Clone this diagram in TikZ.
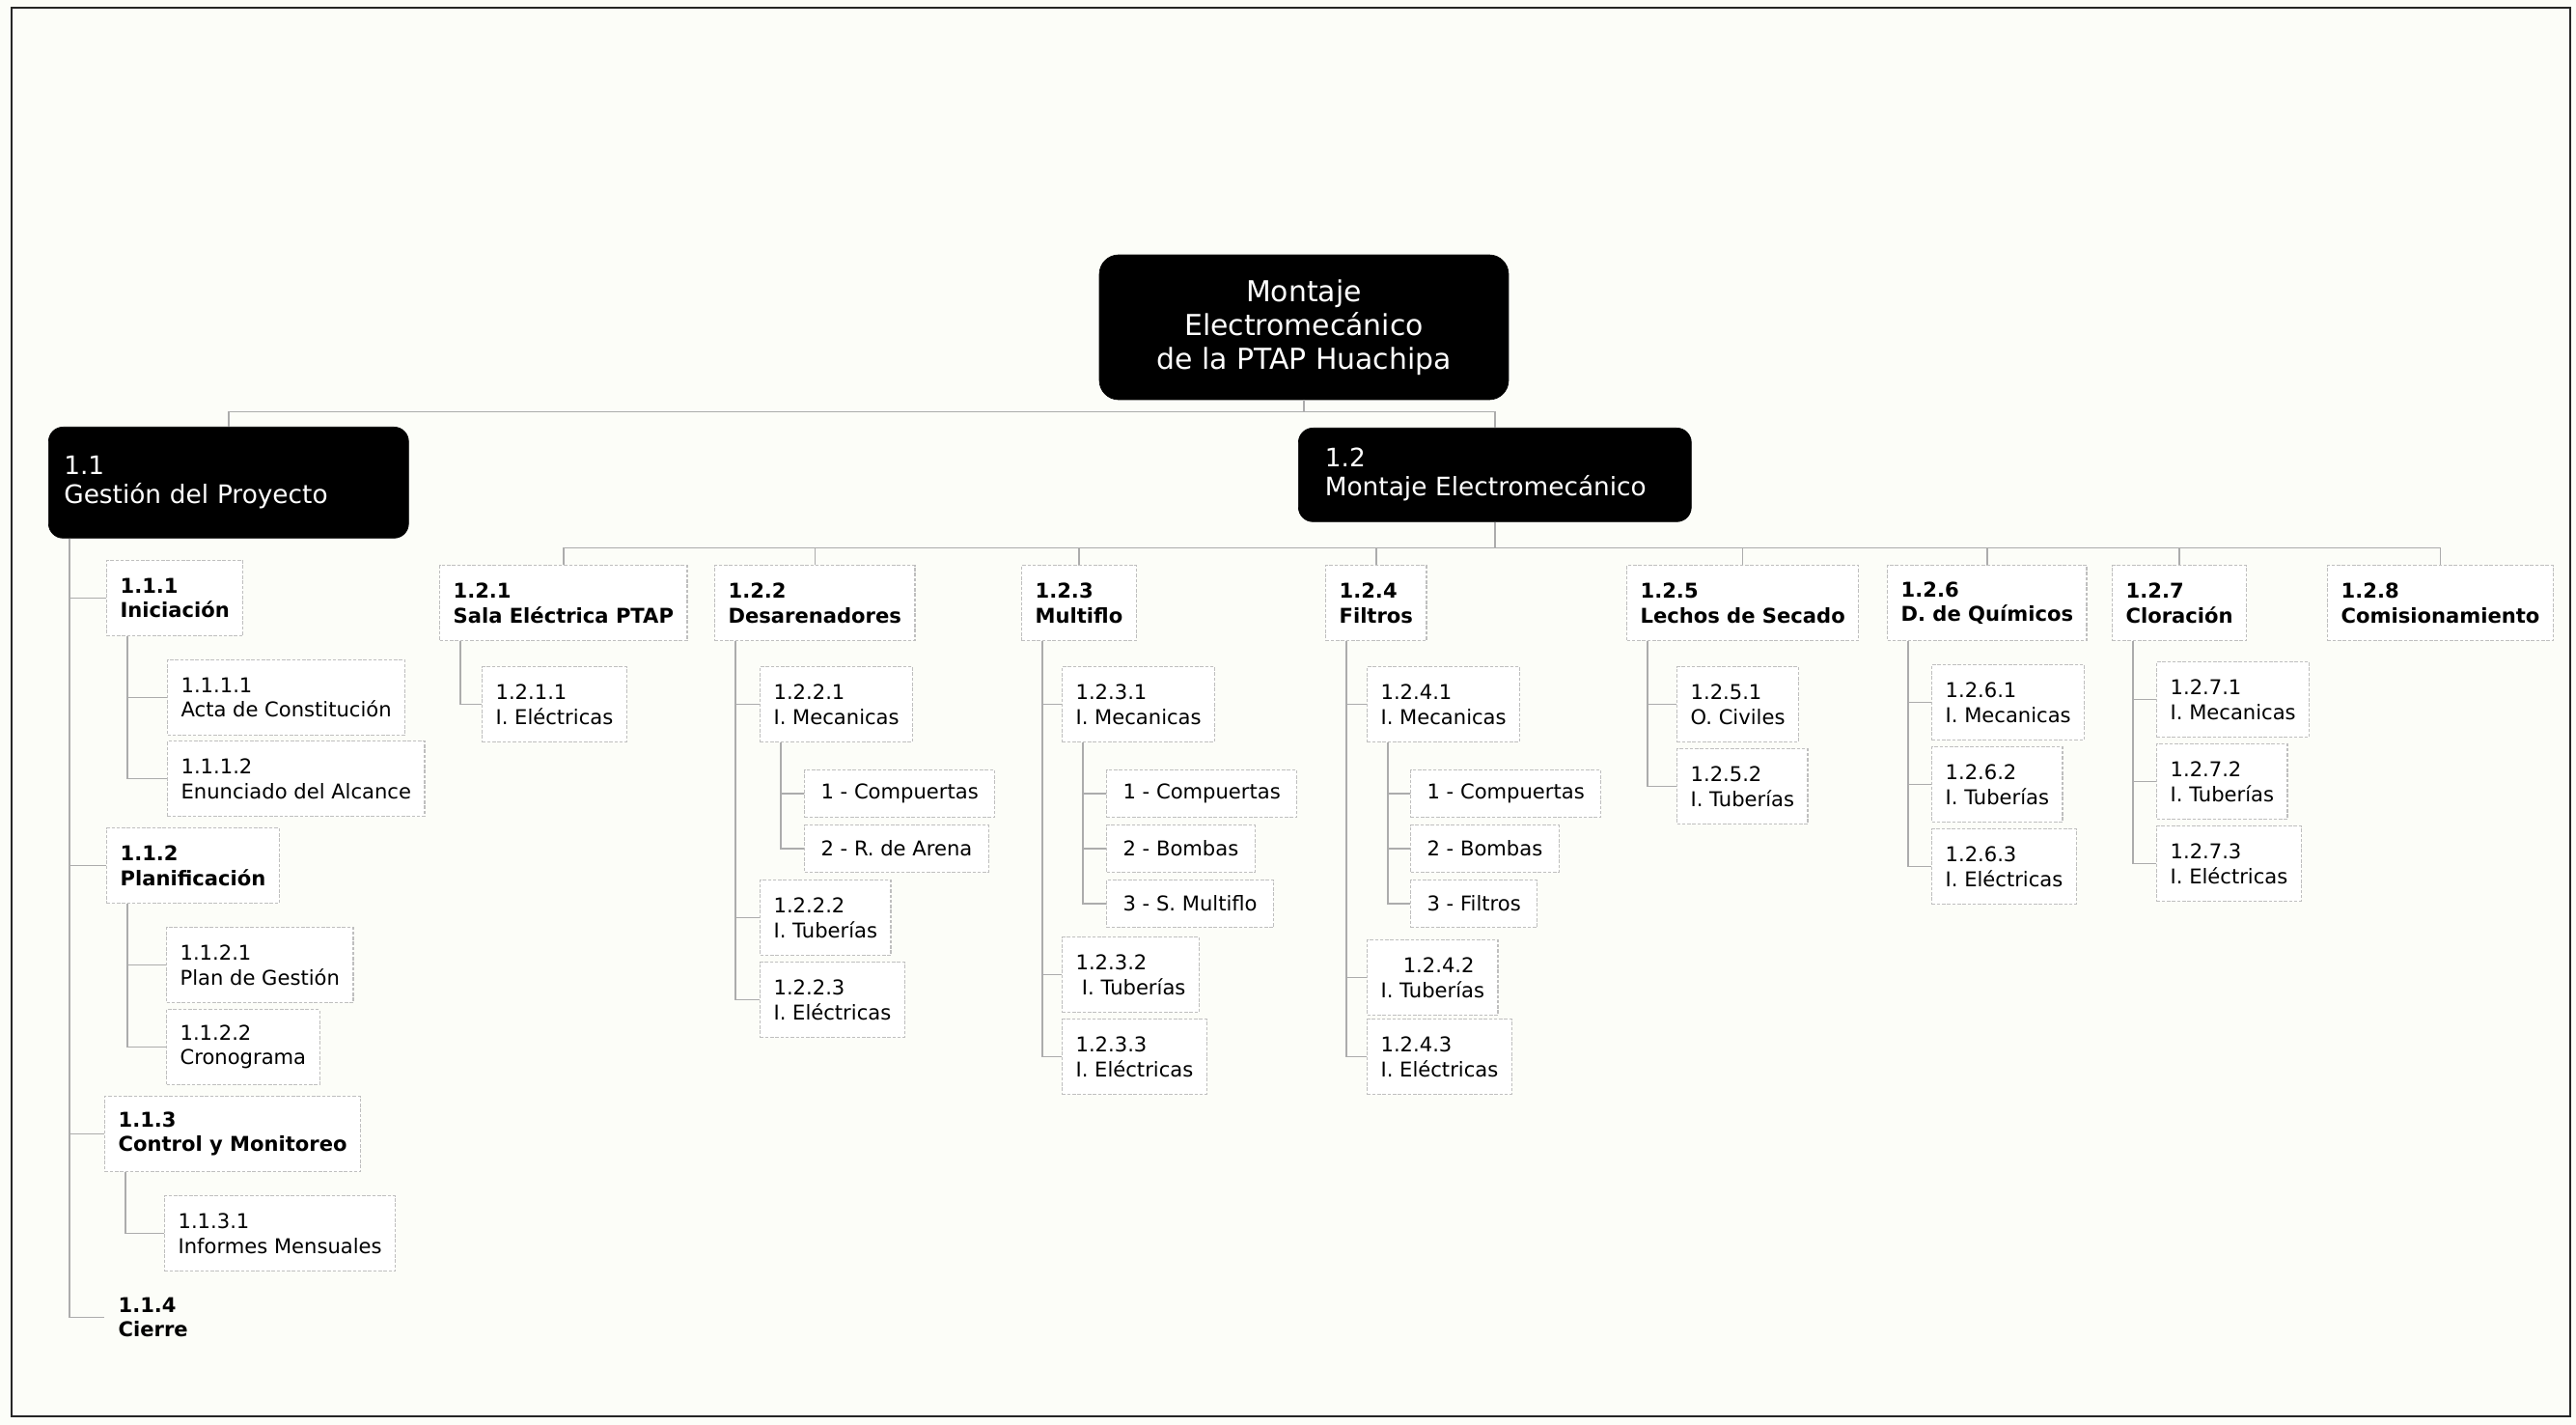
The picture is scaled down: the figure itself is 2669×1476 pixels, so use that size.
\documentclass[tikz,border=0pt]{standalone}
\usepackage{fontspec}
\setmainfont{DejaVu Sans}
\definecolor{paper}{RGB}{252,253,248}
\begin{document}
\begin{tikzpicture}[x=0.02cm, y=-0.02cm,
    % Define styles - one per level of the breakdown
    top/.style={rectangle, rounded corners=0.4cm, draw=black, fill=black, text=white, align=center, minimum width=8.48cm, minimum height=3cm, font=\fontsize{17}{20}\selectfont},
    phase/.style={rectangle, rounded corners=0.3cm, draw=black, fill=black, text=white, align=left, anchor=north west, font=\fontsize{15}{17}\selectfont},
    pkg/.style={rectangle, draw=gray!50, line width=0.7pt, dash pattern=on 2pt off 1pt, fill=white, align=left, anchor=north west, inner xsep=0.28cm, minimum height=1.56cm, font=\fontsize{12}{14.5}\selectfont\bfseries},
    task/.style={pkg, font=\fontsize{12}{14.5}\selectfont},
    item/.style={task, inner xsep=0.34cm, minimum height=0.98cm},
    link/.style={draw=gray!65, line width=0.8pt}
]
\useasboundingbox (0,0) rectangle (2669,1476);
\fill[paper] (0,0) rectangle (2669,1476);
\draw[gray!30!black, line width=1.1pt] (12,8) rectangle (2663,1467);

% Root and phases
\node[top] (root) at (1351,339) {Montaje\\Electromecánico\\de la PTAP Huachipa};
\node[phase, text width=6.82cm, inner xsep=0.32cm, minimum height=2.3cm] (g11) at (50,442) {1.1\\Gestión del Proyecto};
\node[phase, text width=7.04cm, inner xsep=0.55cm, minimum height=1.94cm] (g12) at (1345,443) {1.2\\Montaje Electromecánico};

% 1.1 Gestion del Proyecto
\node[pkg] (g111) at (110,580) {1.1.1\\Iniciación};
\node[task] (g1111) at (173,683) {1.1.1.1\\Acta de Constitución};
\node[task] (g1112) at (173,767) {1.1.1.2\\Enunciado del Alcance};
\node[pkg] (g112) at (110,857) {1.1.2\\Planificación};
\node[task] (g1121) at (172,960) {1.1.2.1\\Plan de Gestión};
\node[task] (g1122) at (172,1045) {1.1.2.2\\Cronograma};
\node[pkg] (g113) at (108,1135) {1.1.3\\Control y Monitoreo};
\node[task] (g1131) at (170,1238) {1.1.3.1\\Informes Mensuales};
\node[pkg, draw=none, fill=none] (g114) at (108,1325) {1.1.4\\Cierre};

% 1.2 Montaje Electromecanico - work packages
\node[pkg] (g121) at (455,585) {1.2.1\\Sala Eléctrica PTAP};
\node[pkg] (g122) at (740,585) {1.2.2\\Desarenadores};
\node[pkg] (g123) at (1058,585) {1.2.3\\Multiflo};
\node[pkg] (g124) at (1373,585) {1.2.4\\Filtros};
\node[pkg] (g125) at (1685,585) {1.2.5\\Lechos de Secado};
\node[pkg] (g126) at (1955,585) {1.2.6\\D. de Químicos};
\node[pkg] (g127) at (2188,585) {1.2.7\\Cloración};
\node[pkg] (g128) at (2411,585) {1.2.8\\Comisionamiento};

% 1.2.1 and 1.2.2
\node[task] (g1211) at (499,690) {1.2.1.1\\I. Eléctricas};
\node[task] (g1221) at (787,690) {1.2.2.1\\I. Mecanicas};
\node[item] (g12211) at (833,797) {1 - Compuertas};
\node[item] (g12212) at (833,854) {2 - R. de Arena};
\node[task] (g1222) at (787,911) {1.2.2.2\\I. Tuberías};
\node[task] (g1223) at (787,996) {1.2.2.3\\I. Eléctricas};

% 1.2.3 Multiflo
\node[task] (g1231) at (1100,690) {1.2.3.1\\I. Mecanicas};
\node[item] (g12311) at (1146,797) {1 - Compuertas};
\node[item] (g12312) at (1146,854) {2 - Bombas};
\node[item] (g12313) at (1146,911) {3 - S. Multiflo};
\node[task] (g1232) at (1100,970) {1.2.3.2\\\hspace{0.3em}I. Tuberías};
\node[task] (g1233) at (1100,1055) {1.2.3.3\\I. Eléctricas};

% 1.2.4 Filtros
\node[task] (g1241) at (1416,690) {1.2.4.1\\I. Mecanicas};
\node[item] (g12411) at (1461,797) {1 - Compuertas};
\node[item] (g12412) at (1461,854) {2 - Bombas};
\node[item] (g12413) at (1461,911) {3 - Filtros};
\node[task] (g1242) at (1416,973) {\hspace{1.1em}1.2.4.2\\I. Tuberías};
\node[task] (g1243) at (1416,1055) {1.2.4.3\\I. Eléctricas};

% 1.2.5 to 1.2.7
\node[task] (g1251) at (1737,690) {1.2.5.1\\O. Civiles};
\node[task] (g1252) at (1737,775) {1.2.5.2\\I. Tuberías};
\node[task] (g1261) at (2001,688) {1.2.6.1\\I. Mecanicas};
\node[task] (g1262) at (2001,773) {1.2.6.2\\I. Tuberías};
\node[task] (g1263) at (2001,858) {1.2.6.3\\I. Eléctricas};
\node[task] (g1271) at (2234,685) {1.2.7.1\\I. Mecanicas};
\node[task] (g1272) at (2234,770) {1.2.7.2\\I. Tuberías};
\node[task] (g1273) at (2234,855) {1.2.7.3\\I. Eléctricas};

% Top connections
\draw[link] (root.south) -- ++(0,12) coordinate (rbar);
\draw[link] (rbar) -| (g11.north);
\draw[link] (rbar) -| (g12.north);
\draw[link] (g12.south) -- ++(0,27) coordinate (mbar);
\foreach \c in {g121,g122,g123,g124,g125,g126,g127,g128}
    \draw[link] (mbar) -| (\c.north);

% Side connections (parent to child)
\foreach \p/\c in {g11/g111, g11/g112, g11/g113, g11/g114,
                   g111/g1111, g111/g1112, g112/g1121, g112/g1122, g113/g1131,
                   g121/g1211, g122/g1221, g122/g1222, g122/g1223,
                   g1221/g12211, g1221/g12212,
                   g123/g1231, g123/g1232, g123/g1233,
                   g1231/g12311, g1231/g12312, g1231/g12313,
                   g124/g1241, g124/g1242, g124/g1243,
                   g1241/g12411, g1241/g12412, g1241/g12413,
                   g125/g1251, g125/g1252,
                   g126/g1261, g126/g1262, g126/g1263,
                   g127/g1271, g127/g1272, g127/g1273}
    \draw[link] (\p.south west) ++(22,0) |- (\c.west);

\end{tikzpicture}
\end{document}
